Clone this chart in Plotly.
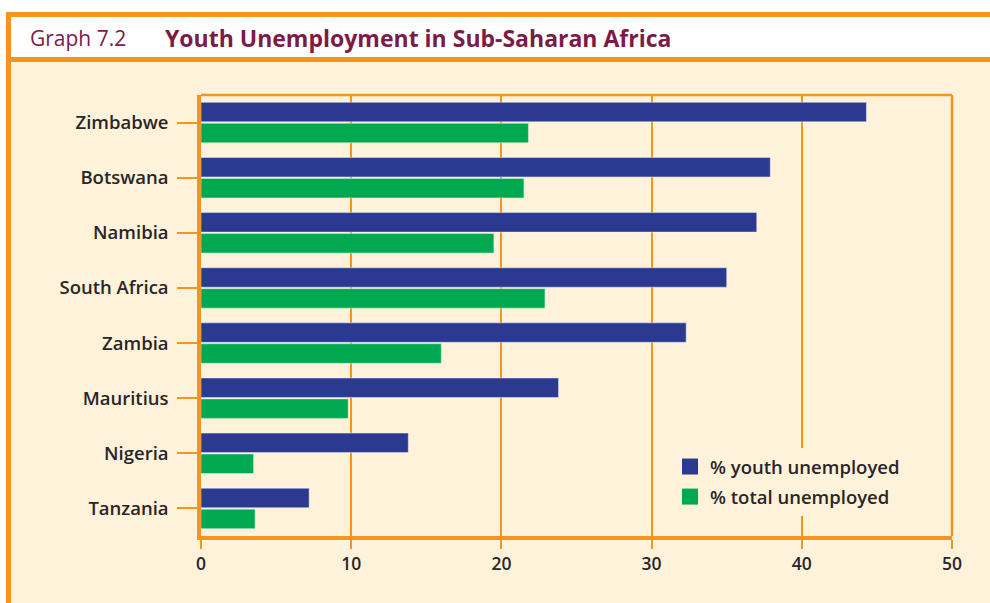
import plotly.graph_objects as go

countries = ["Zimbabwe", "Botswana", "Namibia", "South Africa", "Zambia", "Mauritius", "Nigeria", "Tanzania"]
youth_unemployed = [44.3, 37.9, 37.0, 35.0, 32.3, 23.8, 13.8, 7.2]
total_unemployed = [21.8, 21.5, 19.5, 22.9, 16.0, 9.8, 3.5, 3.6]
x_ticks = [0, 10, 20, 30, 40, 50]

ORANGE = "#f7941d"
CREAM = "#fef3da"
BLUE = "#2b3990"
GREEN = "#00a94f"
MAROON = "#7d1a45"
TEXT = "#2a2526"
FONT = "Open Sans"

W, H = 990, 603
L, R, T, B = 201, 38, 95, 67
pw, ph = W - L - R, H - T - B

def px(xp):
    return (xp - L) / pw

def py(yp):
    return (H - B - yp) / ph

fig = go.Figure()
fig.add_trace(go.Bar(y=countries, x=youth_unemployed, orientation="h", marker_color=BLUE,
                     name="% youth unemployed", showlegend=False))
fig.add_trace(go.Bar(y=countries, x=total_unemployed, orientation="h", marker_color=GREEN,
                     name="% total unemployed", showlegend=False))
# legend entries
fig.add_trace(go.Scatter(x=[None], y=[None], mode="markers", name="% youth unemployed",
                         marker=dict(symbol="square", size=20, color=BLUE), legendgroup="a"))
fig.add_trace(go.Scatter(x=[None], y=[None], mode="markers", name="% total unemployed",
                         marker=dict(symbol="square", size=20, color=GREEN), legendgroup="b"))

shapes = []
# white title band & outer border
shapes.append(dict(type="rect", xref="paper", yref="paper", x0=px(0), x1=px(W), y0=py(0), y1=py(59.5),
                   fillcolor="white", line_width=0, layer="above"))
shapes.append(dict(type="rect", xref="paper", yref="paper", x0=px(0), x1=px(6), y0=py(0), y1=py(H),
                   fillcolor="white", line_width=0, layer="above"))
shapes.append(dict(type="line", xref="paper", yref="paper", x0=px(6), x1=px(W), y0=py(14.5), y1=py(14.5),
                   line=dict(color=ORANGE, width=5), layer="above"))
shapes.append(dict(type="line", xref="paper", yref="paper", x0=px(6), x1=px(W), y0=py(59.5), y1=py(59.5),
                   line=dict(color=ORANGE, width=5), layer="above"))
shapes.append(dict(type="line", xref="paper", yref="paper", x0=px(8.5), x1=px(8.5), y0=py(12), y1=py(H),
                   line=dict(color=ORANGE, width=5), layer="above"))
# plot frame
shapes.append(dict(type="line", xref="paper", yref="paper", x0=0, x1=1, y0=1, y1=1,
                   line=dict(color=ORANGE, width=2.5), layer="above"))
shapes.append(dict(type="line", xref="paper", yref="paper", x0=1, x1=1, y0=0, y1=1,
                   line=dict(color=ORANGE, width=2.5), layer="above"))

fig.update_layout(
    width=W, height=H,
    margin=dict(l=L, r=R, t=T, b=B),
    paper_bgcolor=CREAM, plot_bgcolor=CREAM,
    barmode="group", bargap=0.24, bargroupgap=0.07,
    font=dict(family=FONT, color=TEXT, size=17),
    shapes=shapes,
    xaxis=dict(range=[0, 50], tickvals=x_ticks, ticktext=[str(v) for v in x_ticks],
               showgrid=True, gridcolor=ORANGE, gridwidth=2, zeroline=False,
               showline=True, linecolor=ORANGE, linewidth=3.5,
               ticks="outside", ticklen=9, tickwidth=2, tickcolor=ORANGE,
               tickfont=dict(size=17.5, color=TEXT, weight=600), ticklabelstandoff=0, fixedrange=True),
    yaxis=dict(autorange="reversed", showgrid=False, zeroline=False,
               showline=True, linecolor=ORANGE, linewidth=3.5,
               ticks="outside", ticklen=20, tickwidth=2, tickcolor=ORANGE,
               tickfont=dict(size=18.5, color=TEXT, weight=600), ticklabelstandoff=5, fixedrange=True),
    legend=dict(x=px(670), y=py(448), xanchor="left", yanchor="top", bgcolor=CREAM,
                font=dict(size=18.5, color=TEXT, weight=600), tracegroupgap=3, itemwidth=30),
    annotations=[
        dict(text="Graph 7.2", xref="paper", yref="paper", x=px(28), y=py(38), xanchor="left",
             yanchor="middle", showarrow=False, font=dict(size=21, color=MAROON, family=FONT)),
        dict(text="<b>Youth Unemployment in Sub-Saharan Africa</b>", xref="paper", yref="paper",
             x=px(163), y=py(38), xanchor="left", yanchor="middle", showarrow=False,
             font=dict(size=23, color=MAROON, family=FONT)),
    ],
)

fig.write_html("out.html", config={"displayModeBar": False},
               post_script="document.body.style.margin='0';document.body.style.padding='0';")
